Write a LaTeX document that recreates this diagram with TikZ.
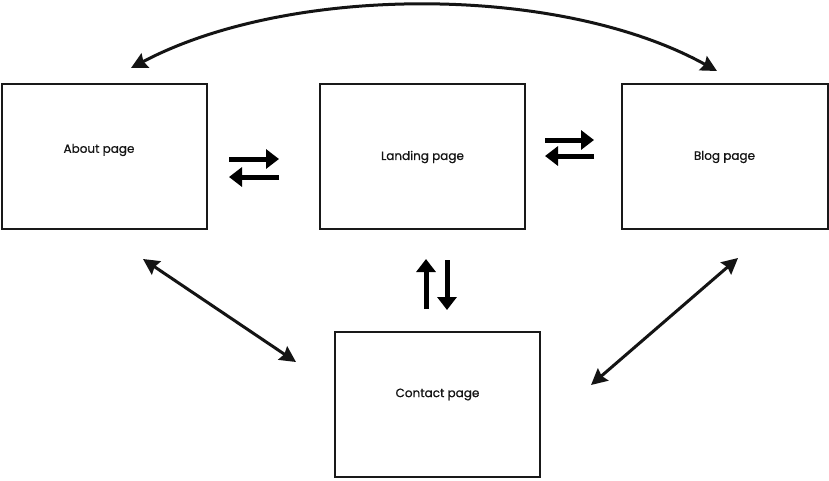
\documentclass[tikz,border=0pt]{standalone}
\usepackage{fontspec}
\setmainfont{Poppins}
\newfontfamily\lblfont{Poppins}[FakeBold=0.8]
\usetikzlibrary{arrows.meta}
\begin{document}
\begin{tikzpicture}[x=1pt,y=-1pt,
  page/.style={draw=black!90,line width=2pt,minimum width=205pt,minimum height=145pt,inner sep=0pt},
  lbl/.style={font=\lblfont\fontsize{12}{14}\selectfont,text=black!92,inner sep=0pt},
  link/.style={draw=black!92,line width=3pt,{Stealth[length=16pt,width=16pt,inset=2pt]}-{Stealth[length=16pt,width=16pt,inset=2pt]}},
  swap/.style={draw=black,line width=5pt,-{Triangle[length=13pt,width=19pt]}}]
\useasboundingbox (0,0) rectangle (829,480);
\fill[white] (0,0) rectangle (829,480);
% pages
\node[page] (about) at (104.5,156.5) {};
\node[page] (landing) at (422.5,156.5) {};
\node[page,minimum width=206pt] (blog) at (725,156.5) {};
\node[page] (contact) at (437.5,404.5) {};
% labels
\node[lbl] (aboutlbl) at (99,150) {About page};
\node[lbl] (landinglbl) at (422.5,157) {Landing page};
\node[lbl] (bloglbl) at (724.5,157) {Blog page};
\node[lbl] (contactlbl) at (437.5,394.5) {Contact page};
% connector ends
\coordinate (aboutTop) at (131,68);
\coordinate (blogTop) at (717,71);
\coordinate (aboutBot) at (143,259);
\coordinate (contactL) at (296,362);
\coordinate (blogBot) at (738,258);
\coordinate (contactR) at (591,385);
\draw[link] (aboutTop) .. controls (290,-16) and (560,-16) .. (blogTop);
\draw[link] (aboutBot) -- (contactL);
\draw[link] (blogBot) -- (contactR);
% swap icons
\coordinate (s1a) at (229,159); \coordinate (s1b) at (279,159);
\coordinate (s1c) at (279,177); \coordinate (s1d) at (229,177);
\draw[swap] (s1a) -- (s1b);
\draw[swap] (s1c) -- (s1d);
\coordinate (s2a) at (545,140); \coordinate (s2b) at (594,140);
\coordinate (s2c) at (594,156); \coordinate (s2d) at (545,156);
\draw[swap] (s2a) -- (s2b);
\draw[swap] (s2c) -- (s2d);
\coordinate (s3a) at (426,309); \coordinate (s3b) at (426,259);
\coordinate (s3c) at (447,260); \coordinate (s3d) at (447,310);
\draw[swap] (s3a) -- (s3b);
\draw[swap] (s3c) -- (s3d);
\end{tikzpicture}
\end{document}
